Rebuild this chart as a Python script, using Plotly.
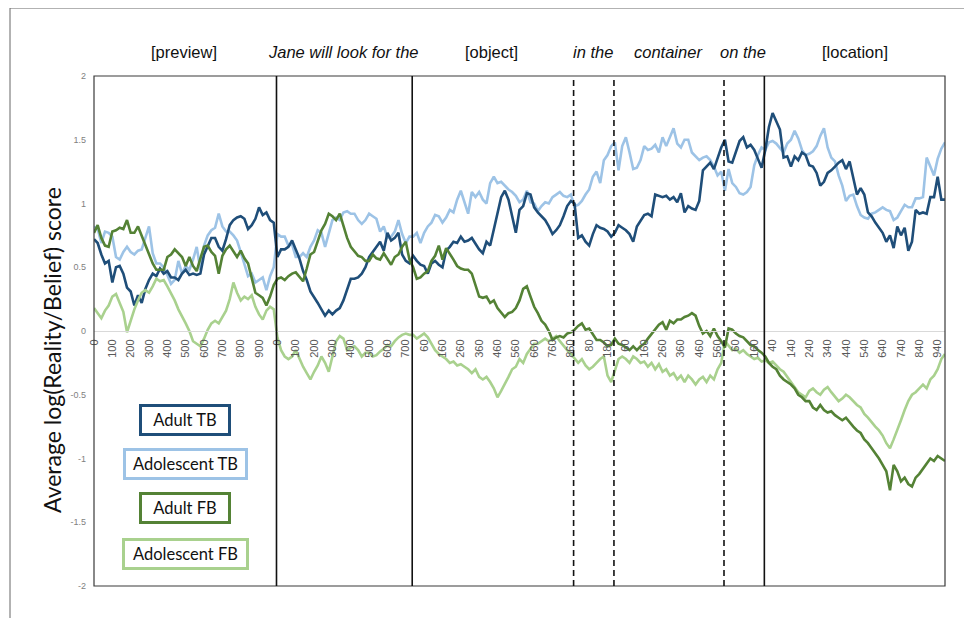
import plotly.graph_objects as go

# ---------------- data ----------------
SEGMENTS = ["[preview]", "Jane will look for the", "[object]", "in the", "container", "on the", "[location]"]
SEGMENT_START = [0, 50, 87, 131, 142, 172, 183]        # first sample index of each segment
SEGMENT_ITALIC = [False, True, False, True, True, True, False]
SEGMENT_DASHED = [False, False, False, True, True, True, False]  # style of boundary line at segment start
N_POINTS = 233

TICK_POS = list(range(0, 231, 5))
TICK_LABELS = ["0", "100", "200", "300", "400", "500", "600", "700", "800", "900",
               "0", "100", "200", "300", "400", "500", "600", "700",
               "60", "160", "260", "360", "460", "560", "660", "760", "860",
               "80", "180",
               "60", "160", "260", "360", "460", "560",
               "60", "160",
               "40", "140", "240", "340", "440", "540", "640", "740", "840", "940"]

ADULT_TB = [0.72, 0.69, 0.60, 0.53, 0.55, 0.38, 0.50, 0.51, 0.45, 0.34,
            0.31, 0.20, 0.28, 0.22, 0.33, 0.40, 0.45, 0.43, 0.49, 0.45,
            0.47, 0.42, 0.42, 0.40, 0.45, 0.48, 0.44, 0.45, 0.44, 0.45,
            0.60, 0.67, 0.73, 0.73, 0.66, 0.63, 0.72, 0.83, 0.87, 0.89,
            0.90, 0.88, 0.80, 0.83, 0.88, 0.97, 0.91, 0.93, 0.87, 0.85,
            0.58, 0.64, 0.64, 0.66, 0.71, 0.64, 0.57, 0.47, 0.40, 0.31,
            0.27, 0.22, 0.17, 0.12, 0.16, 0.13, 0.16, 0.18, 0.24, 0.33,
            0.41, 0.41, 0.42, 0.45, 0.50, 0.58, 0.62, 0.66, 0.70, 0.63,
            0.77, 0.71, 0.73, 0.77, 0.60, 0.55, 0.53, 0.59, 0.55, 0.52,
            0.51, 0.45, 0.53, 0.55, 0.52, 0.50, 0.63, 0.66, 0.70, 0.69,
            0.74, 0.70, 0.71, 0.73, 0.68, 0.64, 0.61, 0.70, 0.67, 0.80,
            0.94, 1.05, 1.10, 1.03, 0.90, 0.77, 0.95, 0.98, 1.08, 1.07,
            0.97, 0.93, 0.90, 0.87, 0.82, 0.76, 0.79, 0.83, 0.90, 0.98,
            1.02, 1.00, 0.73, 0.75, 0.70, 0.67, 0.76, 0.83, 0.81, 0.80,
            0.78, 0.74, 0.77, 0.83, 0.81, 0.79, 0.76, 0.70, 0.82, 0.86,
            0.91, 0.92, 0.90, 1.07, 1.06, 1.05, 1.06, 1.03, 1.05, 1.01,
            1.08, 0.93, 0.98, 0.96, 0.95, 1.02, 1.26, 1.29, 1.32, 1.27,
            1.36, 1.44, 1.50, 1.33, 1.32, 1.40, 1.49, 1.52, 1.44, 1.46,
            1.42, 1.35, 1.28, 1.42, 1.60, 1.71, 1.64, 1.58, 1.36, 1.37,
            1.29, 1.37, 1.34, 1.40, 1.38, 1.30, 1.29, 1.24, 1.14, 1.17,
            1.24, 1.26, 1.29, 1.32, 1.34, 1.27, 1.33, 1.20, 1.07, 1.12,
            1.07, 0.93, 0.90, 0.85, 0.81, 0.77, 0.70, 0.75, 0.65, 0.82,
            0.75, 0.81, 0.63, 0.70, 0.95, 0.92, 0.93, 0.92, 1.05, 1.05,
            1.21, 1.03, 1.03]

ADOL_TB = [0.82, 0.80, 0.69, 0.78, 0.77, 0.74, 0.58, 0.56, 0.62, 0.66,
           0.62, 0.60, 0.63, 0.64, 0.73, 0.82, 0.61, 0.53, 0.53, 0.50,
           0.44, 0.37, 0.40, 0.55, 0.45, 0.51, 0.48, 0.56, 0.66, 0.48,
           0.67, 0.75, 0.79, 0.81, 0.92, 0.82, 0.78, 0.78, 0.75, 0.71,
           0.62, 0.52, 0.43, 0.45, 0.38, 0.40, 0.42, 0.32, 0.43, 0.50,
           0.76, 0.74, 0.74, 0.67, 0.68, 0.58, 0.58, 0.61, 0.58, 0.66,
           0.71, 0.79, 0.77, 0.66, 0.77, 0.87, 0.89, 0.87, 0.93, 0.94,
           0.92, 0.92, 0.87, 0.84, 0.87, 0.92, 0.90, 0.88, 0.78, 0.82,
           0.73, 0.74, 0.78, 0.87, 0.76, 0.69, 0.74, 0.74, 0.77, 0.69,
           0.77, 0.82, 0.85, 0.91, 0.90, 0.85, 0.89, 0.95, 0.93, 1.03,
           1.10, 1.00, 0.92, 1.09, 1.05, 1.09, 1.03, 1.00, 1.16, 1.21,
           1.16, 1.17, 1.14, 1.11, 1.09, 1.06, 1.01, 1.03, 1.10, 1.01,
           1.00, 0.94, 0.98, 1.01, 1.00, 1.05, 1.07, 1.09, 1.06, 1.05,
           1.07, 0.98, 0.99, 1.02, 1.07, 1.11, 1.21, 1.25, 1.16, 1.34,
           1.38, 1.45, 1.48, 1.26, 1.45, 1.52, 1.40, 1.27, 1.28, 1.34,
           1.45, 1.42, 1.43, 1.46, 1.40, 1.52, 1.45, 1.52, 1.59, 1.47,
           1.44, 1.50, 1.50, 1.40, 1.37, 1.34, 1.36, 1.37, 1.34, 1.29,
           1.22, 1.25, 1.10, 1.27, 1.16, 1.13, 1.08, 1.07, 1.09, 1.13,
           1.30, 1.38, 1.44, 1.42, 1.48, 1.49, 1.47, 1.43, 1.40, 1.47,
           1.50, 1.57, 1.51, 1.42, 1.38, 1.39, 1.41, 1.45, 1.53, 1.59,
           1.44, 1.36, 1.33, 1.22, 1.14, 1.02, 1.06, 1.07, 0.98, 0.91,
           0.89, 0.88, 0.92, 0.93, 0.95, 0.97, 0.95, 0.94, 0.87, 0.89,
           0.94, 0.99, 0.97, 0.97, 1.04, 1.04, 1.05, 1.36, 1.29, 1.22,
           1.35, 1.43, 1.48]

ADULT_FB = [0.77, 0.83, 0.73, 0.67, 0.66, 0.78, 0.79, 0.81, 0.80, 0.87,
            0.77, 0.77, 0.82, 0.75, 0.68, 0.61, 0.53, 0.48, 0.48, 0.48,
            0.58, 0.60, 0.64, 0.61, 0.58, 0.51, 0.58, 0.51, 0.47, 0.57,
            0.66, 0.67, 0.62, 0.59, 0.45, 0.59, 0.64, 0.67, 0.63, 0.58,
            0.63, 0.57, 0.53, 0.42, 0.30, 0.28, 0.26, 0.20, 0.27, 0.36,
            0.41, 0.42, 0.40, 0.43, 0.45, 0.46, 0.42, 0.39, 0.49, 0.60,
            0.62, 0.71, 0.79, 0.84, 0.92, 0.90, 0.87, 0.92, 0.82, 0.73,
            0.66, 0.62, 0.59, 0.58, 0.55, 0.55, 0.60, 0.57, 0.56, 0.61,
            0.56, 0.52, 0.58, 0.60, 0.66, 0.70, 0.56, 0.50, 0.41, 0.42,
            0.45, 0.47, 0.55, 0.59, 0.67, 0.56, 0.65, 0.61, 0.56, 0.51,
            0.49, 0.48, 0.48, 0.45, 0.36, 0.27, 0.26, 0.27, 0.22, 0.24,
            0.18, 0.14, 0.11, 0.14, 0.15, 0.18, 0.24, 0.33, 0.35, 0.27,
            0.19, 0.14, 0.08, 0.05, 0.00, -0.07, -0.05, -0.04, -0.05, -0.02,
            -0.01, 0.01, 0.04, 0.06, 0.01, 0.02, -0.03, -0.07, -0.07, -0.09,
            -0.12, -0.11, -0.06, -0.10, -0.11, -0.13, -0.15, -0.12, -0.15, -0.12,
            -0.10, -0.06, -0.02, 0.01, 0.05, 0.07, 0.01, 0.08, 0.06, 0.09,
            0.09, 0.11, 0.12, 0.14, 0.12, 0.04, -0.02, 0.00, -0.04, 0.02,
            -0.04, -0.08, -0.13, 0.02, 0.01, -0.02, -0.04, -0.05, -0.08, -0.11,
            -0.12, -0.15, -0.17, -0.20, -0.25, -0.28, -0.30, -0.35, -0.38, -0.40,
            -0.42, -0.45, -0.50, -0.52, -0.55, -0.55, -0.60, -0.62, -0.58, -0.62,
            -0.64, -0.63, -0.66, -0.68, -0.70, -0.68, -0.72, -0.75, -0.78, -0.80,
            -0.85, -0.88, -0.92, -0.96, -1.00, -1.05, -1.10, -1.25, -1.05, -1.10,
            -1.18, -1.15, -1.20, -1.22, -1.15, -1.12, -1.08, -1.05, -1.00, -1.02,
            -0.98, -1.00, -1.02]

ADOL_FB = [0.18, 0.14, 0.10, 0.16, 0.20, 0.27, 0.29, 0.22, 0.15, -0.01,
           0.09, 0.17, 0.24, 0.30, 0.32, 0.30, 0.35, 0.41, 0.39, 0.40,
           0.35, 0.30, 0.24, 0.17, 0.12, 0.06, 0.00, -0.08, -0.10, -0.12,
           -0.06, 0.01, 0.06, 0.08, 0.06, 0.11, 0.16, 0.25, 0.38, 0.30,
           0.24, 0.27, 0.25, 0.28, 0.19, 0.13, 0.09, 0.16, 0.19, 0.17,
           -0.05, -0.15, -0.20, -0.22, -0.20, -0.15, -0.22, -0.28, -0.33, -0.38,
           -0.32, -0.27, -0.20, -0.25, -0.32, -0.20, -0.08, -0.04, -0.06, -0.15,
           -0.13, -0.12, -0.15, -0.20, -0.17, -0.17, -0.20, -0.19, -0.16, -0.14,
           -0.11, -0.12, -0.08, -0.05, -0.03, -0.02, -0.03, -0.03, -0.06, -0.04,
           -0.02, -0.05, -0.10, -0.15, -0.18, -0.20, -0.22, -0.25, -0.24, -0.27,
           -0.26, -0.28, -0.30, -0.33, -0.30, -0.36, -0.38, -0.36, -0.40, -0.45,
           -0.52, -0.47, -0.42, -0.36, -0.30, -0.28, -0.22, -0.25, -0.18, -0.14,
           -0.10, -0.10, -0.08, -0.06, -0.08, -0.06, -0.04, -0.08, -0.12, -0.15,
           -0.18, -0.22, -0.25, -0.22, -0.27, -0.30, -0.28, -0.25, -0.22, -0.20,
           -0.35, -0.40, -0.30, -0.22, -0.20, -0.22, -0.25, -0.20, -0.22, -0.25,
           -0.24, -0.28, -0.25, -0.30, -0.26, -0.32, -0.30, -0.35, -0.33, -0.38,
           -0.35, -0.40, -0.35, -0.38, -0.42, -0.38, -0.36, -0.40, -0.35, -0.38,
           -0.30, -0.25, -0.08, -0.12, -0.15, -0.14, -0.17, -0.15, -0.18, -0.20,
           -0.22, -0.21, -0.24, -0.23, -0.25, -0.24, -0.27, -0.30, -0.32, -0.36,
           -0.40, -0.45, -0.48, -0.50, -0.52, -0.47, -0.45, -0.48, -0.50, -0.46,
           -0.44, -0.48, -0.52, -0.55, -0.53, -0.50, -0.52, -0.55, -0.58, -0.60,
           -0.65, -0.68, -0.72, -0.75, -0.78, -0.82, -0.88, -0.92, -0.85, -0.78,
           -0.70, -0.62, -0.55, -0.50, -0.48, -0.45, -0.42, -0.45, -0.38, -0.35,
           -0.30, -0.22, -0.18]

SERIES = [
    ("Adolescent TB", ADOL_TB, "#9dc3e6"),
    ("Adult TB", ADULT_TB, "#1f4e79"),
    ("Adolescent FB", ADOL_FB, "#a9d18e"),
    ("Adult FB", ADULT_FB, "#548235"),
]
LEGEND_ORDER = ["Adult TB", "Adolescent TB", "Adult FB", "Adolescent FB"]

Y_TICKS = [-2, -1.5, -1, -0.5, 0, 0.5, 1, 1.5, 2]
Y_TICK_LABELS = ["-2", "-1.5", "-1", "-0.5", "0", "0.5", "1", "1.5", "2"]

# ---------------- layout constants ----------------
# the page places the figure with an offset; all target positions below are window pixels
OFF_X, OFF_Y = 8, 8
W, H = 962, 610
PLOT_L, PLOT_R, PLOT_T, PLOT_B = 94, 945, 76, 586   # window pixels of the plot area
ML, MT = PLOT_L - OFF_X, PLOT_T - OFF_Y
MR, MB = W - (PLOT_R - OFF_X), H - (PLOT_B - OFF_Y)
PW, PH = PLOT_R - PLOT_L, PLOT_B - PLOT_T


def px_to_paper_x(px):
    return (px - PLOT_L) / PW


def px_to_paper_y(py):
    return (PLOT_B - py) / PH


fig = go.Figure()
x_idx = list(range(N_POINTS))
for name, vals, color in SERIES:
    fig.add_trace(go.Scatter(x=x_idx, y=vals, mode="lines", name=name,
                             line=dict(color=color, width=2.6), showlegend=False))

shapes = []
# plot area frame
shapes.append(dict(type="rect", xref="paper", yref="paper", x0=0, x1=1, y0=0, y1=1,
                   line=dict(color="#3a3a3a", width=1.2), layer="above"))
# outer frame of the image
shapes.append(dict(type="rect", xref="paper", yref="paper",
                   x0=px_to_paper_x(10), x1=px_to_paper_x(967),
                   y0=px_to_paper_y(640), y1=px_to_paper_y(8),
                   line=dict(color="#666666", width=1)))
# segment boundaries
for start, dashed in zip(SEGMENT_START[1:], SEGMENT_DASHED[1:]):
    shapes.append(dict(type="line", xref="x", yref="paper", x0=start - 0.25, x1=start - 0.25,
                       y0=0, y1=1, layer="above",
                       line=dict(color="#111111", width=1.6, dash="6px,4px" if dashed else "solid")))

annotations = []
ends = SEGMENT_START[1:] + [N_POINTS]
for name, start, end, italic in zip(SEGMENTS, SEGMENT_START, ends, SEGMENT_ITALIC):
    mid = (start + end - 1) / 2
    annotations.append(dict(x=mid, y=px_to_paper_y(52), xref="x", yref="paper",
                            text="<i>%s</i>" % name if italic else name, showarrow=False,
                            font=dict(family="Liberation Sans, Arial", size=16.5, color="#111111"),
                            xanchor="center", yanchor="middle"))

# legend boxes
box_centers_y = [420, 464, 508, 554]
box_widths = [84, 117, 84, 119]
colors = {n: c for n, _, c in SERIES}
for name, cy, bw in zip(LEGEND_ORDER, box_centers_y, box_widths):
    annotations.append(dict(x=px_to_paper_x(185), y=px_to_paper_y(cy), xref="paper", yref="paper",
                            text=name, showarrow=False, width=bw, height=24,
                            font=dict(family="Lato, Open Sans", size=16.5, color="#111111"),
                            bordercolor=colors[name], borderwidth=3, borderpad=1,
                            bgcolor="white", xanchor="center", yanchor="middle"))

# y-axis title as rotated text
annotations.append(dict(x=px_to_paper_x(52), y=px_to_paper_y(350), xref="paper", yref="paper",
                        text="Average log(Reality/Belief) score", showarrow=False, textangle=-90,
                        font=dict(family="Lato, Open Sans", size=23, color="#111111"),
                        xanchor="center", yanchor="middle"))

fig.update_layout(
    width=W, height=H,
    margin=dict(l=ML, r=MR, t=MT, b=MB, autoexpand=False),
    paper_bgcolor="white", plot_bgcolor="white",
    shapes=shapes, annotations=annotations,
    xaxis=dict(range=[0, N_POINTS - 1], tickvals=TICK_POS, ticktext=TICK_LABELS,
               tickangle=-90, tickfont=dict(family="Liberation Sans, Arial", size=11, color="#595959"),
               anchor="free", position=0.5, showline=True, linecolor="#d9d9d9", linewidth=1,
               showgrid=False, zeroline=False, ticks="", automargin=False, ticklabelstandoff=3),
    yaxis=dict(range=[-2, 2], tickvals=Y_TICKS, ticktext=Y_TICK_LABELS,
               tickfont=dict(family="Liberation Sans, Arial", size=9, color="#7f7f7f"),
               showgrid=False, zeroline=False, showline=False, ticks="", automargin=False,
               ticklabelstandoff=7),
)

fig.write_html("out.html")
